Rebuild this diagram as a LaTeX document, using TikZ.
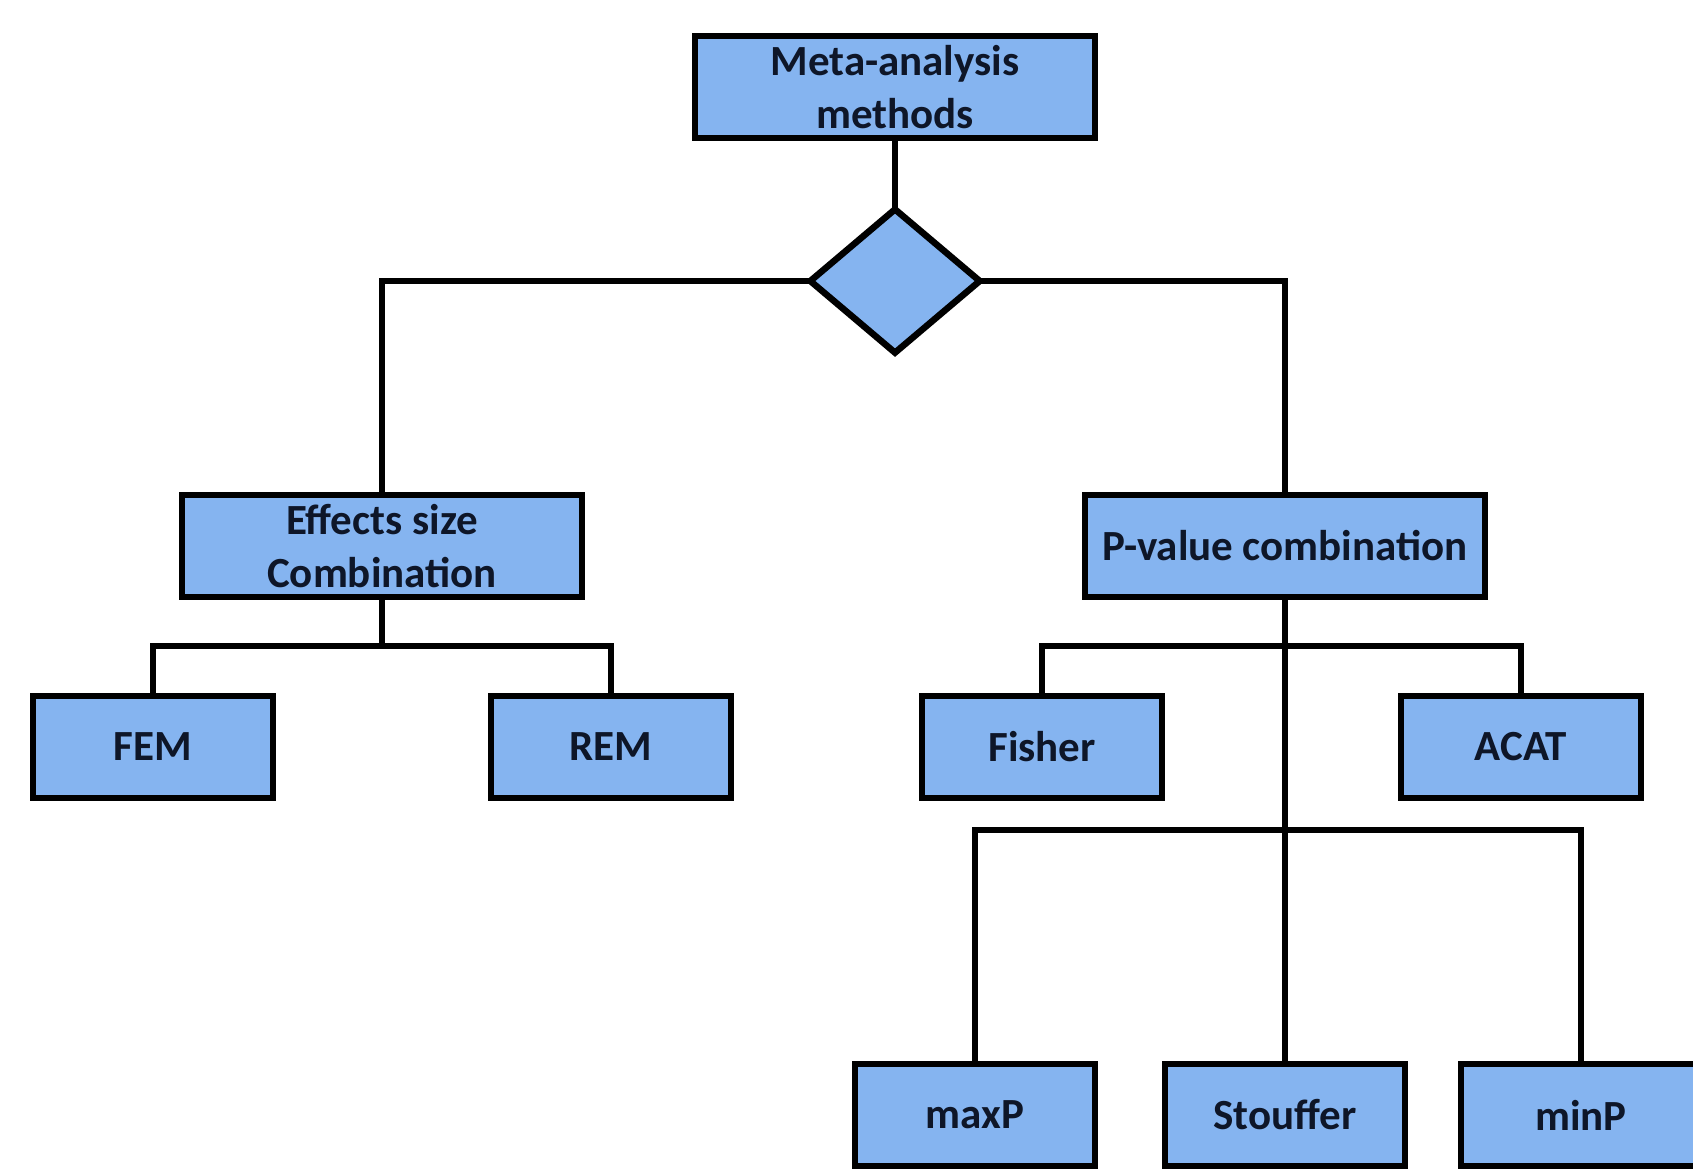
\documentclass[tikz,border=0pt]{standalone}
\usepackage{fontspec}
\setmainfont{Carlito}
\usetikzlibrary{shapes.geometric}
\definecolor{boxblue}{RGB}{133,180,240}
\definecolor{txt}{RGB}{14,22,40}
\begin{document}
\begin{tikzpicture}[x=1pt,y=-1pt,
  box/.style={draw=black,fill=boxblue,line width=6.5pt,rectangle,inner sep=0pt,
    minimum width=#1,align=center,text=txt,
    font=\bfseries\fontsize{43}{53}\selectfont},
  wide/.style={box=400pt,minimum height=102pt},
  small/.style={box=240pt,minimum height=102pt},
  conn/.style={line width=6.5pt,draw=black,line cap=rect}]
\useasboundingbox[fill=white] (0,0) rectangle (1693,1170);
\node[wide] (top) at (895,87) {Meta-analysis\\methods};
\node[diamond,draw=black,fill=boxblue,line width=6.5pt,inner sep=0pt,
      minimum width=172pt,minimum height=146pt] (dia) at (895,281) {};
\node[wide] (eff) at (382,546) {Effects size\\Combination};
\node[wide] (pv) at (1285,546) {P-value combination};
\node[small] (fem) at (153,747) {FEM};
\node[small] (rem) at (611,747) {REM};
\node[small] (fis) at (1042,747) {Fisher};
\node[small] (acat) at (1521,747) {ACAT};
\node[small] (maxp) at (975,1115) {maxP};
\node[small] (sto) at (1285,1115) {Stouffer};
\node[small] (minp) at (1581,1115) {minP};
\coordinate (j1) at (382,646);
\coordinate (j2) at (1285,646);
\coordinate (j3) at (1285,830);
\draw[conn] (top.south) -- (dia.north);
\draw[conn] (dia.west) -| (eff.north);
\draw[conn] (dia.east) -| (pv.north);
\draw[conn] (eff.south) -- (j1);
\draw[conn] (fem.north) |- (j1) -| (rem.north);
\draw[conn] (pv.south) -- (sto.north);
\draw[conn] (fis.north) |- (j2) -| (acat.north);
\draw[conn] (maxp.north) |- (j3) -| (minp.north);
\end{tikzpicture}
\end{document}
